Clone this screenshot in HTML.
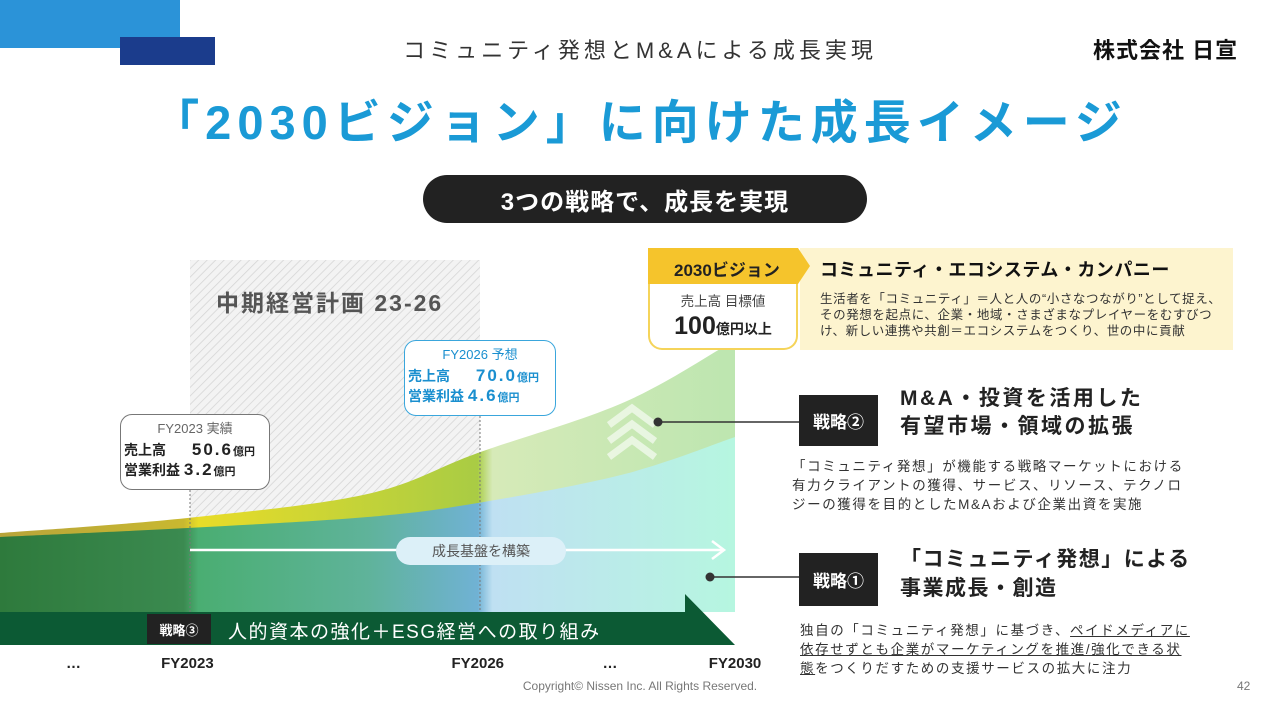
<!DOCTYPE html>
<html><head><meta charset="utf-8">
<style>
*{margin:0;padding:0;box-sizing:border-box}
body{width:1280px;height:720px;background:#fff;position:relative;overflow:hidden;font-family:"Liberation Sans","Noto Sans CJK JP",sans-serif;color:#222}
.abs{position:absolute}
.box{position:absolute;background:#fff;border-radius:12px;font-size:14px}
.blk{position:absolute;background:#222;color:#fff;font-weight:bold;font-size:17px;display:flex;align-items:center;justify-content:center}
.para{position:absolute;font-size:13.5px;line-height:19px;color:#333;white-space:nowrap}
u{text-decoration:underline}
</style></head><body>
<div class="abs" style="left:0;top:0;width:180px;height:48px;background:#2b93d8"></div>
<div class="abs" style="left:120px;top:37px;width:95px;height:28px;background:#1b3c8c"></div>
<div class="abs" style="left:0;width:1280px;top:33px;text-align:center;font-size:22px;color:#333;letter-spacing:4px">コミュニティ発想とM&amp;Aによる成長実現</div>
<div class="abs" style="left:1093px;top:33px;font-size:22px;font-weight:bold;color:#111;letter-spacing:1px">株式会社 日宣</div>
<div class="abs" style="left:0;width:1280px;top:84px;text-align:center;font-size:47px;font-weight:bold;color:#1a9ad6;letter-spacing:6px">「2030ビジョン」に向けた成長イメージ</div>
<div class="abs" style="left:423px;top:175px;width:444px;height:48px;border-radius:24px;background:#222;color:#fff;font-weight:bold;font-size:24px;display:flex;align-items:center;justify-content:center;letter-spacing:1px">3つの戦略で、成長を実現</div>

<svg class="abs" style="left:0;top:0" width="1280" height="720" id="chart">
<defs>
<pattern id="hatch" width="6" height="6" patternUnits="userSpaceOnUse" patternTransform="rotate(45)"><rect width="6" height="6" fill="#f3f3f3"/><line x1="0" y1="0" x2="0" y2="6" stroke="#d4d4d4" stroke-width="1.5"/></pattern>
<linearGradient id="gLow" x1="0" x2="735" gradientUnits="userSpaceOnUse">
<stop offset="0" stop-color="#2e7a3c"/><stop offset="0.25" stop-color="#3b8a50"/><stop offset="0.27" stop-color="#4aae72"/><stop offset="0.5" stop-color="#5fb39a"/><stop offset="0.65" stop-color="#70b2d4"/><stop offset="0.67" stop-color="#bfe0f2"/><stop offset="1" stop-color="#b6f6e0"/></linearGradient>
<linearGradient id="gUp" x1="0" x2="735" gradientUnits="userSpaceOnUse">
<stop offset="0" stop-color="#b8a43a"/><stop offset="0.25" stop-color="#c8b830"/><stop offset="0.27" stop-color="#e8dc28"/><stop offset="0.65" stop-color="#a9cc44"/><stop offset="0.67" stop-color="#d6eab8"/><stop offset="1" stop-color="#bde6b0"/></linearGradient>
</defs>
<rect x="190" y="260" width="290" height="352" fill="url(#hatch)"/>
<g id="areas"></g>
<line x1="190" y1="490" x2="190" y2="612" stroke="#777" stroke-dasharray="2,2"/>
<line x1="480" y1="416" x2="480" y2="612" stroke="#777" stroke-dasharray="2,2"/>
<line x1="190" y1="550" x2="722" y2="550" stroke="#fff" stroke-width="2.5"/>
<polyline points="712,541 724,550 712,559" fill="none" stroke="#fff" stroke-width="2.5"/>
<g fill="none" stroke="#fff" stroke-opacity="0.6" stroke-width="7">
<polyline points="609,425 632,408 655,425"/><polyline points="609,441 632,424 655,441"/><polyline points="609,457 632,440 655,457"/></g>
<path d="M0,612 L685,612 L685,594 L735,645 L0,645 Z" fill="#0c5a34"/>
<line x1="658" y1="422" x2="799" y2="422" stroke="#333" stroke-width="1.5"/><circle cx="658" cy="422" r="4.5" fill="#333"/>
<line x1="710" y1="577" x2="799" y2="577" stroke="#333" stroke-width="1.5"/><circle cx="710" cy="577" r="4.5" fill="#333"/>
<g id="xlabels" font-size="15" font-weight="bold" fill="#222" text-anchor="middle"></g>
</svg>

<div class="abs" style="left:216px;top:284px;font-size:23px;font-weight:bold;color:#555;letter-spacing:2px">中期経営計画 23-26</div>
<div class="box" style="left:120px;top:414px;width:150px;height:76px;border:1px solid #777">
<div style="text-align:center;color:#666;font-size:13px;margin-top:3px">FY2023 実績</div>
<div style="margin-left:3px;font-weight:bold;margin-top:3px">売上高　 <span style="font-size:17px;margin-left:8px;letter-spacing:2px">50.6</span><span style="font-size:11px">億円</span></div>
<div style="margin-left:3px;font-weight:bold">営業利益 <span style="font-size:17px;letter-spacing:2px">3.2</span><span style="font-size:11px">億円</span></div></div>
<div class="box" style="left:404px;top:340px;width:152px;height:76px;border:1px solid #3aa6dc;color:#1a8fcf">
<div style="text-align:center;font-size:13px;margin-top:3px">FY2026 予想</div>
<div style="margin-left:3px;font-weight:bold;margin-top:3px">売上高　 <span style="font-size:17px;margin-left:8px;letter-spacing:2px">70.0</span><span style="font-size:11px">億円</span></div>
<div style="margin-left:3px;font-weight:bold">営業利益 <span style="font-size:17px;letter-spacing:2px">4.6</span><span style="font-size:11px">億円</span></div></div>
<div class="abs" style="left:396px;top:537px;width:170px;height:28px;border-radius:14px;background:#dcf0f8;color:#555;font-size:14px;display:flex;align-items:center;justify-content:center">成長基盤を構築</div>
<div class="blk" style="left:147px;top:614px;width:64px;height:30px;font-size:13px">戦略③</div>
<div class="abs" style="left:228px;top:617px;color:#fff;font-size:19px;letter-spacing:1.5px">人的資本の強化＋ESG経営への取り組み</div>

<div class="abs" style="left:800px;top:248px;width:433px;height:102px;background:#fdf4cf"></div>
<div class="abs" style="left:648px;top:248px;width:162px;height:36px;background:#f5c42c;clip-path:polygon(0 0,150px 0,162px 18px,150px 36px,0 36px);font-weight:bold;font-size:17px;padding:8px 0 0 26px">2030ビジョン</div>
<div class="abs" style="left:648px;top:284px;width:150px;height:66px;background:#fff;border:2px solid #f5d45a;border-top:none;border-radius:0 0 14px 14px;text-align:center">
<div style="font-size:13.5px;color:#444;margin-top:6px">売上高 目標値</div>
<div style="font-weight:bold;margin-top:2px"><span style="font-size:25px">100</span><span style="font-size:14px">億円以上</span></div></div>
<div class="abs" style="left:820px;top:256px;font-size:18px;font-weight:bold;color:#111;letter-spacing:0.5px">コミュニティ・エコシステム・カンパニー</div>
<div class="para" style="left:820px;top:291px;font-size:12.5px;line-height:16px;letter-spacing:0.6px">生活者を「コミュニティ」＝人と人の“小さなつながり”として捉え、<br>その発想を起点に、企業・地域・さまざまなプレイヤーをむすびつ<br>け、新しい連携や共創＝エコシステムをつくり、世の中に貢献</div>

<div class="blk" style="left:799px;top:395px;width:79px;height:51px">戦略②</div>
<div class="abs" style="left:900px;top:385px;font-size:21px;font-weight:bold;line-height:28px;letter-spacing:2.5px">M&amp;A・投資を活用した<br>有望市場・領域の拡張</div>
<div class="para" style="left:792px;top:457px;letter-spacing:1.6px">「コミュニティ発想」が機能する戦略マーケットにおける<br>有力クライアントの獲得、サービス、リソース、テクノロ<br>ジーの獲得を目的としたM&amp;Aおよび企業出資を実施</div>
<div class="blk" style="left:799px;top:553px;width:79px;height:53px">戦略①</div>
<div class="abs" style="left:900px;top:545px;font-size:21px;font-weight:bold;line-height:29px;letter-spacing:1.5px">「コミュニティ発想」による<br>事業成長・創造</div>
<div class="para" style="left:800px;top:621px;letter-spacing:1.6px">独自の「コミュニティ発想」に基づき、<u>ペイドメディアに<br>依存せずとも企業がマーケティングを推進/強化できる状<br>態</u>をつくりだすための支援サービスの拡大に注力</div>
<div class="abs" style="left:0;width:1280px;top:679px;text-align:center;font-size:12px;color:#777">Copyright© Nissen Inc. All Rights Reserved.</div>
<div class="abs" style="left:1237px;top:679px;font-size:12px;color:#777">42</div>

<script>
const categories=['…','FY2023','FY2026','…','FY2030'];
const catT=[0.1,0.255,0.65,0.83,1.0];
const sampleT=[0,0.255,0.5,0.65,0.85,1.0];
const upperValues=[79,94,118,159,210,272];
const lowerValues=[75,84,95,109,138,175];
const X=t=>t*735, Y=v=>612-v;
function curve(vals){
  const p=sampleT.map((t,i)=>[X(t),Y(vals[i])]);
  let d='';
  for(let i=0;i<p.length-1;i++){
    const p0=p[Math.max(0,i-1)],p1=p[i],p2=p[i+1],p3=p[Math.min(p.length-1,i+2)];
    const c1=[p1[0]+(p2[0]-p0[0])/6,p1[1]+(p2[1]-p0[1])/6],c2=[p2[0]-(p3[0]-p1[0])/6,p2[1]-(p3[1]-p1[1])/6];
    d+=(i?'':'M'+p1[0]+','+p1[1])+' C'+c1+' '+c2+' '+p2;
  }
  return d;
}
const ns='http://www.w3.org/2000/svg',g=document.getElementById('areas');
const up=document.createElementNS(ns,'path');
up.setAttribute('d',curve(upperValues)+' L735,612 L0,612 Z');up.setAttribute('fill','url(#gUp)');


g.appendChild(up);
const lo=document.createElementNS(ns,'path');
lo.setAttribute('d',curve(lowerValues)+' L735,612 L0,612 Z');lo.setAttribute('fill','url(#gLow)');


g.appendChild(lo);
const xl=document.getElementById('xlabels');
categories.forEach((c,i)=>{
  const t=document.createElementNS(ns,'text');
  t.setAttribute('x',X(catT[i]));t.setAttribute('y',668);t.textContent=c;
  
  
  xl.appendChild(t);
});
</script>
</body></html>
